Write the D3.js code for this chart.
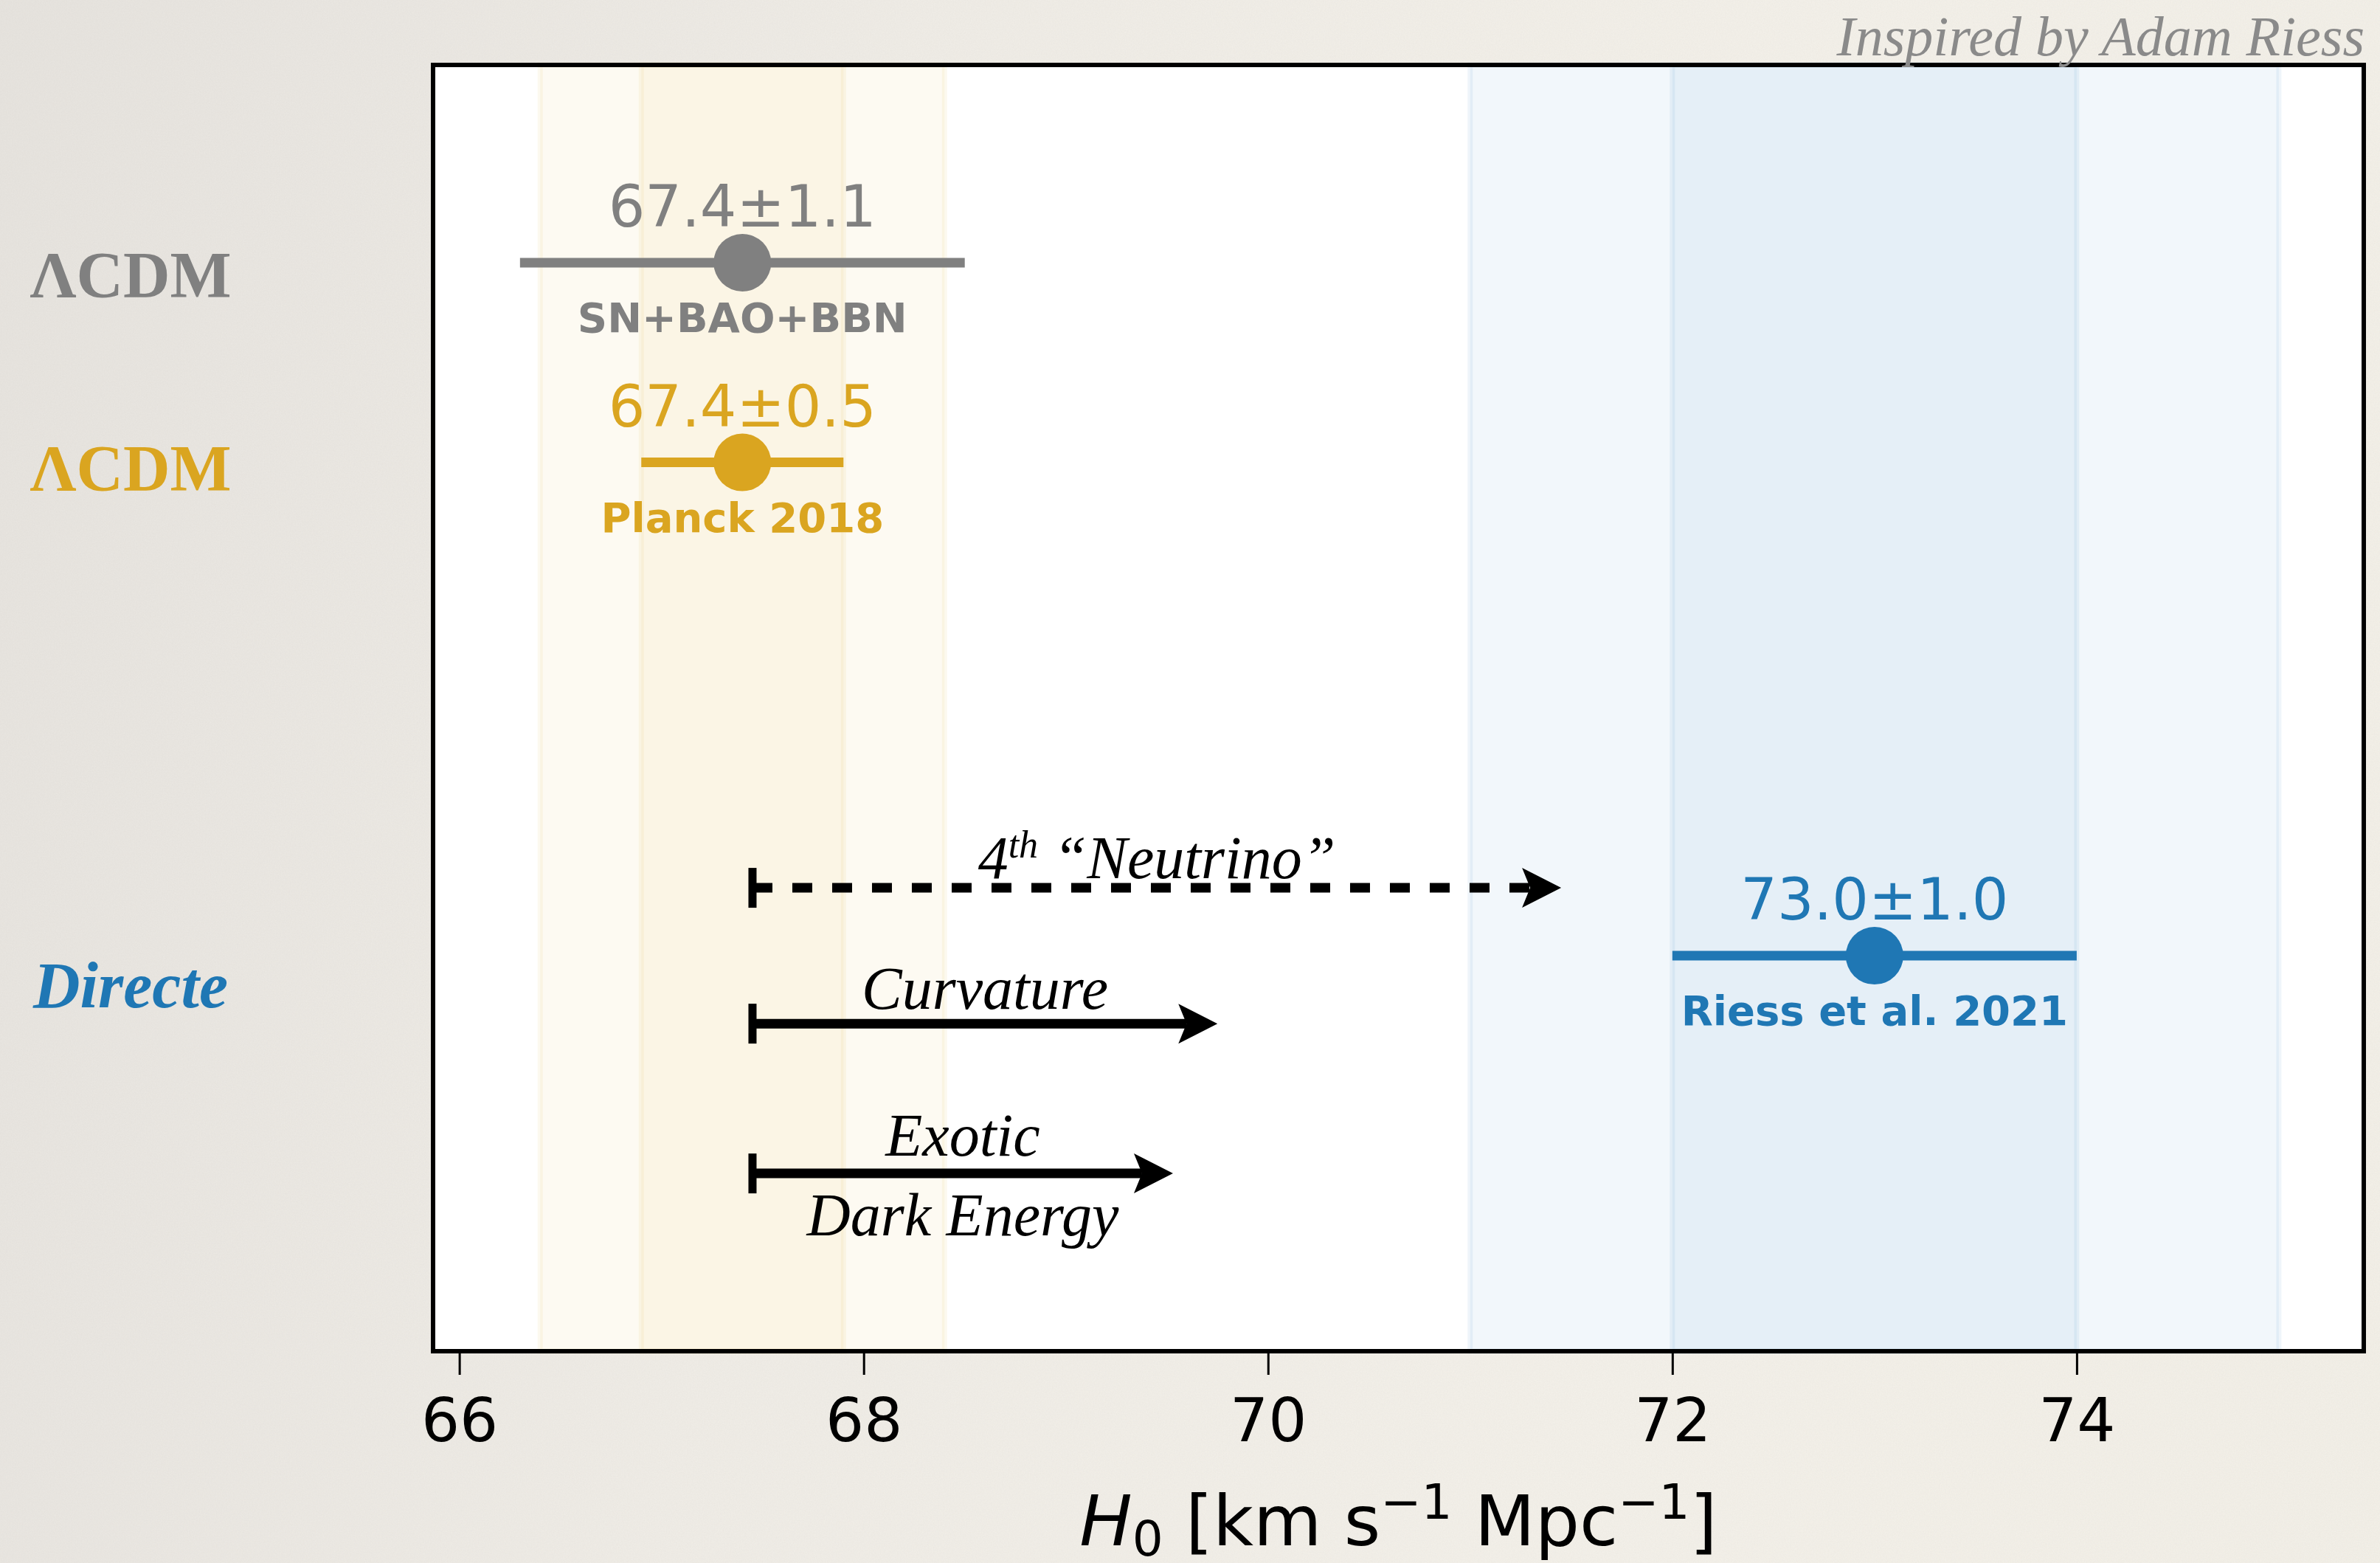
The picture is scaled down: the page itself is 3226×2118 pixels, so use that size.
<!DOCTYPE html>
<html>
<head>
<meta charset="utf-8">
<script src="https://cdn.jsdelivr.net/npm/d3@7"></script>
<style>
  html, body { margin: 0; padding: 0; }
  body {
    width: 3226px; height: 2118px; overflow: hidden;
    background: linear-gradient(100deg, #e7e4df 0%, #eae7e2 12%, #f0ede7 35%, #f4f1ea 70%, #f3f0e8 100%);
  }
</style>
</head>
<body>
<script>
// measurements
var rowNames = ["ΛCDM", "ΛCDM", "Directe"];
var h0 = [67.4, 67.4, 73.0];
var h0err = [1.1, 0.5, 1.0];
var sources = ["SN+BAO+BBN", "Planck 2018", "Riess et al. 2021"];
var rowY = [0.99, 1.99, 4.46];
var rowLabelY = [1.16, 2.13, 4.72];

// shaded bands (1 and 2 sigma)
var bandLo = [66.4, 66.9, 71.0, 72.0];
var bandHi = [68.4, 67.9, 75.0, 74.0];
var bandGroup = [1, 1, 2, 2];

// proposed fixes
var arrowNames = ["Neutrino", "Curvature", "Exotic"];
var arrowStart = 67.45;
var arrowEnd = [71.45, 69.75, 69.53];
var arrowY = [4.12, 4.80, 5.55];

var xTicks = [66, 68, 70, 72, 74];

var colors = ["#808080", "#daa520", "#1f77b4"];
var W = 3226, H = 2118;
var pLeft = 587, pRight = 3204, pTop = 88, pBottom = 1831;

var x = d3.scaleLinear().domain([65.87, 75.42]).range([pLeft, pRight]);
var y = d3.scaleLinear().domain([0, 6.44]).range([pTop, pBottom]);

var svg = d3.select("body").append("svg")
  .attr("width", W)
  .attr("height", H);

// paper texture
var defs = svg.append("defs");
var f = defs.append("filter").attr("id", "paper");
f.append("feTurbulence").attr("type", "fractalNoise").attr("baseFrequency", "0.6").attr("numOctaves", 3).attr("seed", 4);
f.append("feColorMatrix").attr("type", "matrix")
  .attr("values", "0 0 0 0 0.45  0 0 0 0 0.42  0 0 0 0 0.38  0 0 0 0.10 0");
svg.append("rect").attr("width", W).attr("height", H).attr("filter", "url(#paper)");

// plot area
svg.append("rect")
  .attr("x", pLeft).attr("y", pTop)
  .attr("width", pRight - pLeft).attr("height", pBottom - pTop)
  .attr("fill", "white");

svg.selectAll("rect.band")
  .data(bandLo)
  .enter().append("rect")
  .attr("class", "band")
  .attr("x", function(d) { return x(d); })
  .attr("y", pTop)
  .attr("width", function(d, i) { return x(bandHi[i]) - x(d); })
  .attr("height", pBottom - pTop)
  .attr("fill", function(d, i) { return colors[bandGroup[i]]; })
  .attr("fill-opacity", 0.06)
  .attr("stroke", function(d, i) { return colors[bandGroup[i]]; })
  .attr("stroke-opacity", 0.07)
  .attr("stroke-width", 7);

// error bars
var pts = svg.append("g");
h0.forEach(function(v, i) {
  pts.append("line")
    .attr("x1", x(v - h0err[i])).attr("x2", x(v + h0err[i]))
    .attr("y1", y(rowY[i])).attr("y2", y(rowY[i]))
    .attr("stroke", colors[i]).attr("stroke-width", 13);
  pts.append("circle")
    .attr("cx", x(v)).attr("cy", y(rowY[i]))
    .attr("r", 39).attr("fill", colors[i]);
  pts.append("text")
    .attr("x", x(v)).attr("y", y(rowY[i]) - 49)
    .attr("text-anchor", "middle")
    .attr("font-family", "DejaVu Sans").attr("font-size", 78)
    .attr("fill", colors[i])
    .text(v.toFixed(1) + "±" + h0err[i].toFixed(1));
  pts.append("text")
    .attr("x", x(v)).attr("y", y(rowY[i]) + 94)
    .attr("text-anchor", "middle")
    .attr("font-family", "DejaVu Sans").attr("font-weight", "bold").attr("font-size", 56)
    .attr("fill", colors[i])
    .text(sources[i]);
});

// arrows
var arr = svg.append("g");
var headL = 53, headW = 27, notch = 11;
arrowEnd.forEach(function(e, i) {
  var yy = y(arrowY[i]), x0 = x(arrowStart), x1 = x(e);
  arr.append("line")
    .attr("x1", x0).attr("x2", x0)
    .attr("y1", yy - 27).attr("y2", yy + 27)
    .attr("stroke", "black").attr("stroke-width", 11);
  arr.append("line")
    .attr("x1", x0).attr("x2", x1 - headL + notch)
    .attr("y1", yy).attr("y2", yy)
    .attr("stroke", "black").attr("stroke-width", 13)
    .attr("stroke-dasharray", i === 0 ? "27,27" : null);
  arr.append("path")
    .attr("d", "M" + x1 + "," + yy + "L" + (x1 - headL) + "," + (yy - headW) +
      "L" + (x1 - headL + notch) + "," + yy + "L" + (x1 - headL) + "," + (yy + headW) + "Z")
    .attr("fill", "black");
  var mid = x((arrowStart + e) / 2);
  var t = arr.append("text")
    .attr("x", mid)
    .attr("text-anchor", "middle")
    .attr("font-family", "Liberation Serif").attr("font-style", "italic")
    .attr("font-size", 82).attr("fill", "black");
  if (i === 0) {
    t.attr("y", yy - 13);
    t.append("tspan").text("4");
    t.append("tspan").attr("font-size", 52).attr("dy", -28).text("th");
    t.append("tspan").attr("dy", 28).text(" “" + arrowNames[i] + "”");
  } else if (i === 1) {
    t.attr("y", yy - 20).text(arrowNames[i]);
  } else {
    t.attr("y", yy - 24).text(arrowNames[i]);
    arr.append("text")
      .attr("x", mid).attr("y", yy + 84)
      .attr("text-anchor", "middle")
      .attr("font-family", "Liberation Serif").attr("font-style", "italic")
      .attr("font-size", 82).attr("fill", "black")
      .text("Dark Energy");
  }
});

// frame
svg.append("rect")
  .attr("x", pLeft).attr("y", pTop)
  .attr("width", pRight - pLeft).attr("height", pBottom - pTop)
  .attr("fill", "none").attr("stroke", "black").attr("stroke-width", 6);

// x axis
var axis = svg.append("g")
  .attr("transform", "translate(0," + pBottom + ")")
  .call(d3.axisBottom(x).tickValues(xTicks).tickSize(32).tickPadding(32).tickFormat(d3.format("d")));
axis.select(".domain").remove();
axis.selectAll(".tick line").attr("stroke-width", 3);
axis.selectAll(".tick text")
  .attr("font-family", "DejaVu Sans").attr("font-size", 82).attr("fill", "black");

var xl = svg.append("text")
  .attr("x", (pLeft + pRight) / 2).attr("y", 2094)
  .attr("text-anchor", "middle")
  .attr("font-family", "DejaVu Sans").attr("font-size", 95).attr("fill", "black");
xl.append("tspan").attr("font-style", "italic").text("H");
xl.append("tspan").attr("font-size", 66).attr("dy", 14).text("0");
xl.append("tspan").attr("dy", -14).text(" [km s");
xl.append("tspan").attr("font-size", 66).attr("dy", -36).text("−1");
xl.append("tspan").attr("dy", 36).text(" Mpc");
xl.append("tspan").attr("font-size", 66).attr("dy", -36).text("−1");
xl.append("tspan").attr("dy", 36).text("]");

// row labels on the left
svg.selectAll("text.row")
  .data(rowNames)
  .enter().append("text")
  .attr("class", "row")
  .attr("x", 177)
  .attr("y", function(d, i) { return y(rowLabelY[i]); })
  .attr("text-anchor", "middle")
  .attr("font-family", "Liberation Serif")
  .attr("font-size", 88)
  .attr("font-style", function(d, i) { return i === 2 ? "italic" : "normal"; })
  .attr("font-weight", "bold")
  .attr("fill", function(d, i) { return colors[i]; })
  .text(function(d) { return d; });

// credit
svg.append("text")
  .attr("x", 3205).attr("y", 75)
  .attr("text-anchor", "end")
  .attr("font-family", "Liberation Serif").attr("font-style", "italic")
  .attr("font-size", 76).attr("fill", "#8a8a8a")
  .text("Inspired by Adam Riess");
</script>
</body>
</html>
